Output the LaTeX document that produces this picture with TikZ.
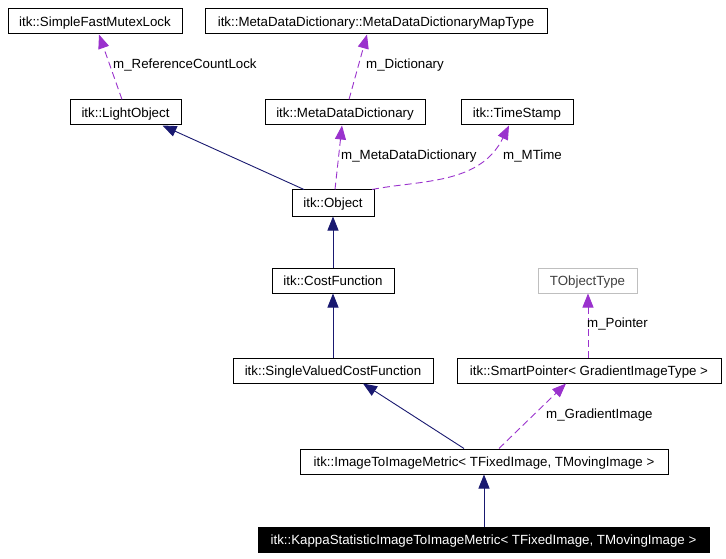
\documentclass[tikz,border=0pt]{standalone}
\usepackage{fontspec}
\setmainfont{Liberation Sans}
\usetikzlibrary{arrows.meta}
\definecolor{edgepurple}{HTML}{9A32CD}
\definecolor{edgenavy}{HTML}{191970}
\tikzset{
  cls/.style={draw=black, line width=1pt, inner sep=0pt, minimum height=25pt, text height=11pt, text depth=1.5pt, font=\fontsize{13.3}{15}\selectfont},
  lbl/.style={inner sep=0pt, anchor=west, font=\fontsize{13.3}{15}\selectfont},
  inherit/.style={draw=edgenavy, line width=0.9pt, -{Triangle[length=14pt,width=11pt]}, color=edgenavy},
  usage/.style={draw=edgepurple, line width=0.9pt, dash pattern=on 7pt off 4pt, -{Triangle[length=14pt,width=11pt]}, color=edgepurple}
}
\begin{document}
\begin{tikzpicture}[x=1pt,y=-1pt]
\useasboundingbox (0,0) rectangle (726,559);
\fill[white] (0,0) rectangle (726,559);
% nodes
\node[cls, minimum width=174pt] (sfml) at (95,21.5) {itk::SimpleFastMutexLock};
\node[cls, minimum width=342pt] (mdmt) at (376,21.5) {itk::MetaDataDictionary::MetaDataDictionaryMapType};
\node[cls, minimum width=111pt] (lo) at (125.5,112.5) {itk::LightObject};
\node[cls, minimum width=160pt] (mdd) at (345,112.5) {itk::MetaDataDictionary};
\node[cls, minimum width=112pt] (ts) at (517,112.5) {itk::TimeStamp};
\node[cls, minimum width=82pt, minimum height=26pt] (obj) at (333,203) {itk::Object};
\node[cls, minimum width=122pt] (cf) at (333,280.5) {itk::CostFunction};
\node[cls, draw=black!25, text=black!75, minimum width=99pt] (tot) at (587.5,280.5) {TObjectType};
\node[cls, minimum width=200pt] (svcf) at (333,370.5) {itk::SingleValuedCostFunction};
\node[cls, minimum width=264pt] (sp) at (589,370.5) {itk::SmartPointer< GradientImageType >};
\node[cls, minimum width=368pt] (itim) at (484,461.5) {itk::ImageToImageMetric< TFixedImage, TMovingImage >};
\node[cls, fill=black, text=white, minimum width=451pt] (kap) at (483.5,539.5) {itk::KappaStatisticImageToImageMetric< TFixedImage, TMovingImage >};
% edges
\draw[usage] ([xshift=-3.5pt]lo.north) -- ([xshift=4pt]sfml.south);
\draw[usage] ([xshift=4pt]mdd.north) -- ([xshift=-9pt]mdmt.south);
\draw[inherit] ([xshift=-29pt]obj.north) -- ([xshift=37pt]lo.south);
\draw[usage] ([xshift=2pt]obj.north) -- ([xshift=-3pt]mdd.south);
\draw[usage] ([xshift=39pt]obj.north) .. controls (420,180) and (480,185) .. ([xshift=-8pt]ts.south);
\draw[inherit] (cf.north) -- (obj.south);
\draw[inherit] (svcf.north) -- (cf.south);
\draw[usage] ([xshift=-1pt]sp.north) -- ([xshift=0.5pt]tot.south);
\draw[inherit] ([xshift=-20pt]itim.north) -- ([xshift=30pt]svcf.south);
\draw[usage] ([xshift=15pt]itim.north) -- ([xshift=-23pt]sp.south);
\draw[inherit] ([xshift=0.5pt]kap.north) -- (itim.south);
% labels
\node[lbl] (l1) at (113,65) {m\_ReferenceCountLock};
\node[lbl] (l2) at (366,65) {m\_Dictionary};
\node[lbl] (l3) at (341,156) {m\_MetaDataDictionary};
\node[lbl] (l4) at (503,156) {m\_MTime};
\node[lbl] (l5) at (587,324) {m\_Pointer};
\node[lbl] (l6) at (546,415) {m\_GradientImage};
\end{tikzpicture}
\end{document}
